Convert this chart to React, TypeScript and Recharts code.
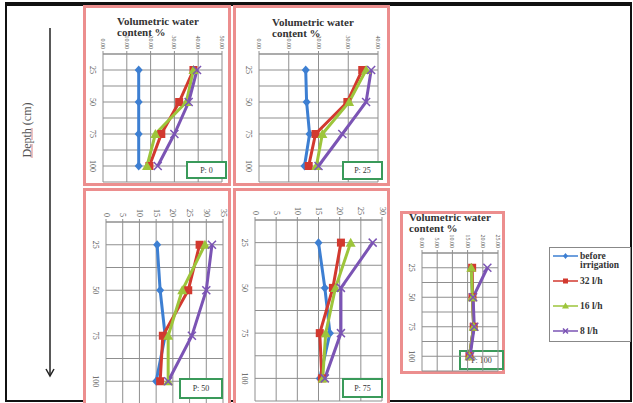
import React from 'react';
import { LineChart, Line, XAxis, YAxis, CartesianGrid } from 'recharts';

const depths = [25, 50, 75, 100];
const depthGrid = [12.5, 25, 37.5, 50, 62.5, 75, 87.5, 100, 112.5];
const seriesNames = ['before irrigation', '32 l/h', '16 l/h', '8 l/h'];
const panelLabels = ['P: 0', 'P: 25', 'P: 50', 'P: 75', 'P: 100'];

// P: 0
const p0Before = [15, 15, 15, 15];
const p0Flow32 = [38, 32, 24.5, 19.5];
const p0Flow16 = [38, 35, 22, 18.5];
const p0Flow8 = [39.5, 36, 30, 23];
const p0Ticks = [0, 10, 20, 30, 40, 50];

// P: 25
const p25Before = [15.7, 16, 17, 15.3];
const p25Flow32 = [34.7, 29.7, 19, 16.7];
const p25Flow16 = [36, 30.3, 21.3, 19.3];
const p25Flow8 = [37.7, 36, 28, 20];
const p25Ticks = [0, 10, 20, 30, 40];

// P: 50
const p50Before = [15.3, 16.2, 17.7, 15];
const p50Flow32 = [28, 24.6, 17, 16.2];
const p50Flow16 = [29.6, 22.8, 18.6, 18.6];
const p50Flow8 = [31.7, 30, 25.7, 18.6];
const p50Ticks = [0, 5, 10, 15, 20, 25, 30, 35];

// P: 75
const p75Before = [15, 16.5, 17.7, 15.3];
const p75Flow32 = [20.3, 18.4, 15.3, 15.8];
const p75Flow16 = [22.6, 19, 16.7, 16];
const p75Flow8 = [27.8, 20.3, 20.3, 16.5];
const p75Ticks = [0, 5, 10, 15, 20, 25, 30];

// P: 100
const p100Before = [16.3, 16.6, 17, 15.6];
const p100Flow32 = [16.5, 16.6, 17, 15.6];
const p100Flow16 = [16.2, 16.6, 17, 15.6];
const p100Flow8 = [21.5, 16.8, 17.2, 15.8];
const p100Ticks = [0, 5, 10, 15, 20, 25];

const KEYS = ['before', 'f32', 'f16', 'f8'];
const COLORS = ['#3d7fd2', '#d2392f', '#9dc53b', '#7b54b4'];
const SHAPES = ['diamond', 'square', 'triangle', 'cross'];
const SERIF = '"Liberation Serif", "DejaVu Serif", serif';

function toRows(before: number[], f32: number[], f16: number[], f8: number[]) {
  return depths.map((depth, i) => ({ depth, before: before[i], f32: f32[i], f16: f16[i], f8: f8[i] }));
}

function Marker({ cx, cy, shape, color, s = 4 }: any) {
  if (cx == null || cy == null) return <g />;
  if (shape === 'diamond')
    return <polygon points={`${cx},${cy - s - 0.5} ${cx + s},${cy} ${cx},${cy + s + 0.5} ${cx - s},${cy}`} fill={color} />;
  if (shape === 'square') return <rect x={cx - s} y={cy - s} width={s * 2} height={s * 2} fill={color} />;
  if (shape === 'triangle')
    return <polygon points={`${cx},${cy - s - 1} ${cx + s + 1},${cy + s} ${cx - s - 1},${cy + s}`} fill={color} />;
  return (
    <g stroke={color} strokeWidth={1.5}>
      <line x1={cx - s} y1={cy - s} x2={cx + s} y2={cy + s} />
      <line x1={cx - s} y1={cy + s} x2={cx + s} y2={cy - s} />
    </g>
  );
}

const DepthTick = ({ x, y, payload }: any) => {
  if (payload.value % 25 !== 0) return <g />;
  return (
    <text x={x - 3} y={y} transform={`rotate(90 ${x - 3} ${y})`} textAnchor="middle" dominantBaseline="central"
      fontSize={8} fill="#555" fontFamily={SERIF}>
      {payload.value}
    </text>
  );
};

const makeValueTick = (decimals: boolean) => ({ x, y, payload }: any) => (
  <text x={x} y={y} transform={`rotate(90 ${x} ${y})`} textAnchor="end" dominantBaseline="central"
    fontSize={decimals ? 6 : 8} fill="#555" fontFamily={SERIF}>
    {decimals ? payload.value.toFixed(2) : payload.value}
  </text>
);

type PanelProps = {
  box: { l: number; t: number; w: number; h: number };
  plot: { l: number; r: number; t: number; b: number };
  rows: any[];
  ticks: number[];
  decimals: boolean;
  label: string;
  labelBox: { l: number; t: number; w: number; h: number };
  title?: { x: number; y: number };
  labelUnder?: boolean;
};

function Panel({ box, plot, rows, ticks, decimals, label, labelBox, title, labelUnder }: PanelProps) {
  const xAxisH = 14;
  const yAxisW = 14;
  const height = plot.b - box.t + 4;
  const labelEl = (
    <div style={{
      position: 'absolute', left: labelBox.l, top: labelBox.t, width: labelBox.w, height: labelBox.h,
      border: '2px solid #3a9a5a', boxSizing: 'border-box', background: labelUnder ? 'transparent' : '#fff',
      fontFamily: SERIF, fontSize: 8, color: '#333', display: 'flex', alignItems: 'center', justifyContent: 'center',
      zIndex: labelUnder ? 0 : 3,
    }}>{label}</div>
  );
  return (
    <>
      <div style={{
        position: 'absolute', left: box.l, top: box.t, width: box.w, height: box.h,
        border: '3px solid #ec8e8e', boxSizing: 'border-box', background: '#fff',
      }} />
      {labelUnder && labelEl}
      {title && (
        <div style={{
          position: 'absolute', left: title.x, top: title.y, fontFamily: SERIF, fontWeight: 'bold',
          fontSize: 11, lineHeight: '11px', color: '#333', zIndex: 2, whiteSpace: 'nowrap',
        }}>
          <div>Volumetric water</div>
          <div>content %</div>
        </div>
      )}
      <div style={{ position: 'absolute', left: box.l, top: box.t, zIndex: 1 }}>
        <LineChart layout="vertical" width={box.w} height={height} data={rows}
          margin={{ top: plot.t - box.t - xAxisH, left: plot.l - box.l - yAxisW, right: box.l + box.w - plot.r, bottom: 4 }}>
          <CartesianGrid stroke="#8f8f8f" strokeWidth={1} />
          <XAxis type="number" orientation="top" domain={[ticks[0], ticks[ticks.length - 1]]} ticks={ticks}
            height={xAxisH} tickSize={3} stroke="#8f8f8f" tick={makeValueTick(decimals)} interval={0} />
          <YAxis type="number" dataKey="depth" domain={[12.5, 112.5]} ticks={depthGrid} width={yAxisW}
            axisLine={false} tickLine={false} tick={<DepthTick />} interval={0} />
          {KEYS.map((k, i) => (
            <Line key={k} dataKey={k} name={seriesNames[i]} stroke={COLORS[i]} strokeWidth={3}
              isAnimationActive={false}
              dot={(p: any) => <Marker key={`${k}-${p.index}`} cx={p.cx} cy={p.cy} shape={SHAPES[i]} color={COLORS[i]} />} />
          ))}
        </LineChart>
      </div>
      {!labelUnder && labelEl}
    </>
  );
}

function Legend() {
  const rowsY = [256, 281, 306, 331];
  return (
    <div style={{
      position: 'absolute', left: 549, top: 247, width: 82, height: 95, border: '1px solid #888',
      boxSizing: 'border-box', background: '#fff',
    }}>
      <svg width={80} height={93}>
        {seriesNames.map((n, i) => {
          const y = rowsY[i] - 248;
          return (
            <g key={n}>
              <line x1={3} x2={28} y1={y} y2={y} stroke={COLORS[i]} strokeWidth={1.5} />
              <Marker cx={15.5} cy={y} shape={SHAPES[i]} color={COLORS[i]} s={2.5} />
              {i === 0 ? (
                <text x={30} y={y} dominantBaseline="central" fontFamily={SERIF} fontWeight="bold" fontSize={9.5} fill="#333">
                  <tspan x={30}>before</tspan>
                  <tspan x={30} dy={9}>irrigation</tspan>
                </text>
              ) : (
                <text x={30} y={y} dominantBaseline="central" fontFamily={SERIF} fontWeight="bold" fontSize={9.5} fill="#333">{n}</text>
              )}
            </g>
          );
        })}
      </svg>
    </div>
  );
}

export default function App() {
  return (
    <div style={{ position: 'relative', width: 633, height: 403, overflow: 'hidden', background: '#fff' }}>
      <style>{'body{margin:0}'}</style>
      <div style={{ position: 'absolute', left: 5, top: 2, width: 627, height: 400, border: '2px solid #111', borderTopWidth: 4, boxSizing: 'border-box' }} />
      <div style={{
        position: 'absolute', left: 27, top: 130, transform: 'translate(-50%, -50%) rotate(-90deg)',
        fontFamily: SERIF, fontSize: 12, color: '#555', whiteSpace: 'nowrap',
      }}>
        <span style={{ textDecoration: 'underline dotted #c33' }}>Depth</span> (cm)
      </div>
      <svg style={{ position: 'absolute', left: 0, top: 0 }} width={80} height={403}>
        <line x1={50} y1={28} x2={50} y2={375} stroke="#222" strokeWidth={1.5} />
        <polyline points="46,369 50,376 54,369" fill="none" stroke="#222" strokeWidth={1.5} />
      </svg>

      <Panel box={{ l: 83, t: 5, w: 148, h: 181 }} plot={{ l: 103, r: 222, t: 54, b: 182 }}
        rows={toRows(p0Before, p0Flow32, p0Flow16, p0Flow8)} ticks={p0Ticks} decimals
        label={panelLabels[0]} labelBox={{ l: 186, t: 161, w: 41, h: 18 }} title={{ x: 117, y: 16 }} />
      <Panel box={{ l: 233, t: 5, w: 157, h: 181 }} plot={{ l: 259, r: 378, t: 54, b: 182 }}
        rows={toRows(p25Before, p25Flow32, p25Flow16, p25Flow8)} ticks={p25Ticks} decimals
        label={panelLabels[1]} labelBox={{ l: 342, t: 161, w: 41, h: 19 }} title={{ x: 272, y: 17 }} />
      <Panel box={{ l: 83, t: 188, w: 148, h: 230 }} plot={{ l: 106, r: 223, t: 222, b: 404 }}
        rows={toRows(p50Before, p50Flow32, p50Flow16, p50Flow8)} ticks={p50Ticks} decimals={false}
        label={panelLabels[2]} labelBox={{ l: 179, t: 378, w: 44, h: 21 }} />
      <Panel box={{ l: 233, t: 188, w: 157, h: 230 }} plot={{ l: 255, r: 382, t: 220, b: 401 }}
        rows={toRows(p75Before, p75Flow32, p75Flow16, p75Flow8)} ticks={p75Ticks} decimals={false}
        label={panelLabels[3]} labelBox={{ l: 342, t: 378, w: 41, h: 20 }} />
      <Panel box={{ l: 400, t: 211, w: 105, h: 163 }} plot={{ l: 422, r: 498, t: 253, b: 371 }}
        rows={toRows(p100Before, p100Flow32, p100Flow16, p100Flow8)} ticks={p100Ticks} decimals
        label={panelLabels[4]} labelBox={{ l: 459, t: 350, w: 45, h: 20 }} title={{ x: 409, y: 212 }} labelUnder />
      <Legend />
    </div>
  );
}
